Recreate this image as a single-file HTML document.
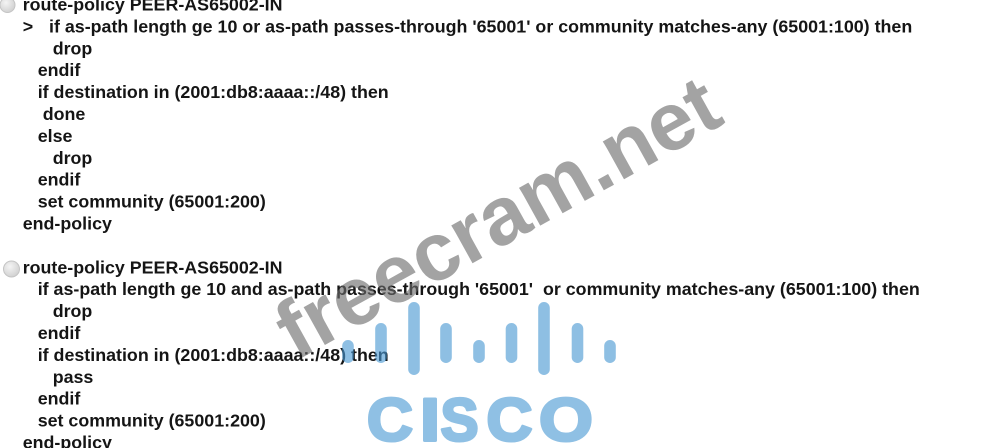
<!DOCTYPE html>
<html><head><meta charset="utf-8"><style>
html,body{margin:0;padding:0;background:#fff;}
body{width:997px;height:448px;overflow:hidden;}
svg{display:block;}
.t{font-family:"Liberation Sans",Arial,sans-serif;font-weight:bold;font-size:17.85px;fill:#151515;}
</style></head><body>
<svg width="997" height="448" viewBox="0 0 997 448" xmlns="http://www.w3.org/2000/svg">
<defs>
<radialGradient id="rg" cx="0.4" cy="0.35" r="0.7">
<stop offset="0" stop-color="#f4f4f4"/><stop offset="1" stop-color="#cfcfcf"/>
</radialGradient>
</defs>
<rect width="997" height="448" fill="#fff"/>
<circle cx="7.5" cy="5" r="7.5" fill="url(#rg)" stroke="#c4c4c4" stroke-width="1"/>
<circle cx="11.5" cy="269" r="8" fill="url(#rg)" stroke="#c4c4c4" stroke-width="1"/>
<g class="t">
<text x="22.7" y="10.5">route-policy PEER-AS65002-IN</text>
<text x="22.7" y="32.4">&gt;</text>
<text x="49" y="32.4">if as-path length ge 10 or as-path passes-through '65001' or community matches-any (65001:100) then</text>
<text x="52.7" y="54.3">drop</text>
<text x="37.7" y="76.2">endif</text>
<text x="37.7" y="98.1">if destination in (2001:db8:aaaa::/48) then</text>
<text x="42.7" y="120">done</text>
<text x="37.7" y="141.9">else</text>
<text x="52.7" y="163.8">drop</text>
<text x="37.7" y="185.7">endif</text>
<text x="37.7" y="207.6">set community (65001:200)</text>
<text x="22.7" y="229.5">end-policy</text>
<text x="22.7" y="273.3">route-policy PEER-AS65002-IN</text>
<text x="37.7" y="295.2">if as-path length ge 10 and as-path passes-through '65001'&#160; or community matches-any (65001:100) then</text>
<text x="52.7" y="317.1">drop</text>
<text x="37.7" y="339">endif</text>
<text x="37.7" y="360.9">if destination in (2001:db8:aaaa::/48) then</text>
<text x="52.7" y="382.8">pass</text>
<text x="37.7" y="404.7">endif</text>
<text x="37.7" y="426.6">set community (65001:200)</text>
<text x="22.7" y="448.5">end-policy</text>
</g>
<text x="296" y="361" transform="rotate(-29 296 361)" style="font-family:'Liberation Sans',Arial,sans-serif;font-weight:bold;font-size:82px;" fill="#6a6a6a" fill-opacity="0.62">freecram.net</text>
<g opacity="0.62" fill="#4a99d3">
<rect x="342.2" y="340" width="11.6" height="23" rx="5.8"/>
<rect x="375.2" y="323" width="11.6" height="40" rx="5.8"/>
<rect x="408.2" y="302" width="11.6" height="73" rx="5.8"/>
<rect x="440.2" y="323" width="11.6" height="40" rx="5.8"/>
<rect x="473.2" y="340" width="11.6" height="23" rx="5.8"/>
<rect x="505.7" y="323" width="11.6" height="40" rx="5.8"/>
<rect x="538.2" y="302" width="11.6" height="73" rx="5.8"/>
<rect x="571.7" y="323" width="11.6" height="40" rx="5.8"/>
<rect x="604.2" y="340" width="11.6" height="23" rx="5.8"/>
</g>
<g style="font-family:'Liberation Sans',Arial,sans-serif;font-weight:bold;font-size:60px;" fill="#8fc0e4" stroke="#8fc0e4" stroke-width="3" stroke-linejoin="round" text-anchor="middle">
<text transform="translate(390 440.7) scale(1.06 1)">C</text>
<text transform="translate(430 440.7) scale(1.2 1)">I</text>
<text transform="translate(459.5 440.7) scale(0.95 1)">S</text>
<text transform="translate(509.5 440.7) scale(1.06 1)">C</text>
<text transform="translate(566 440.7) scale(1.15 1)">O</text>
</g>
</svg>
</body></html>
